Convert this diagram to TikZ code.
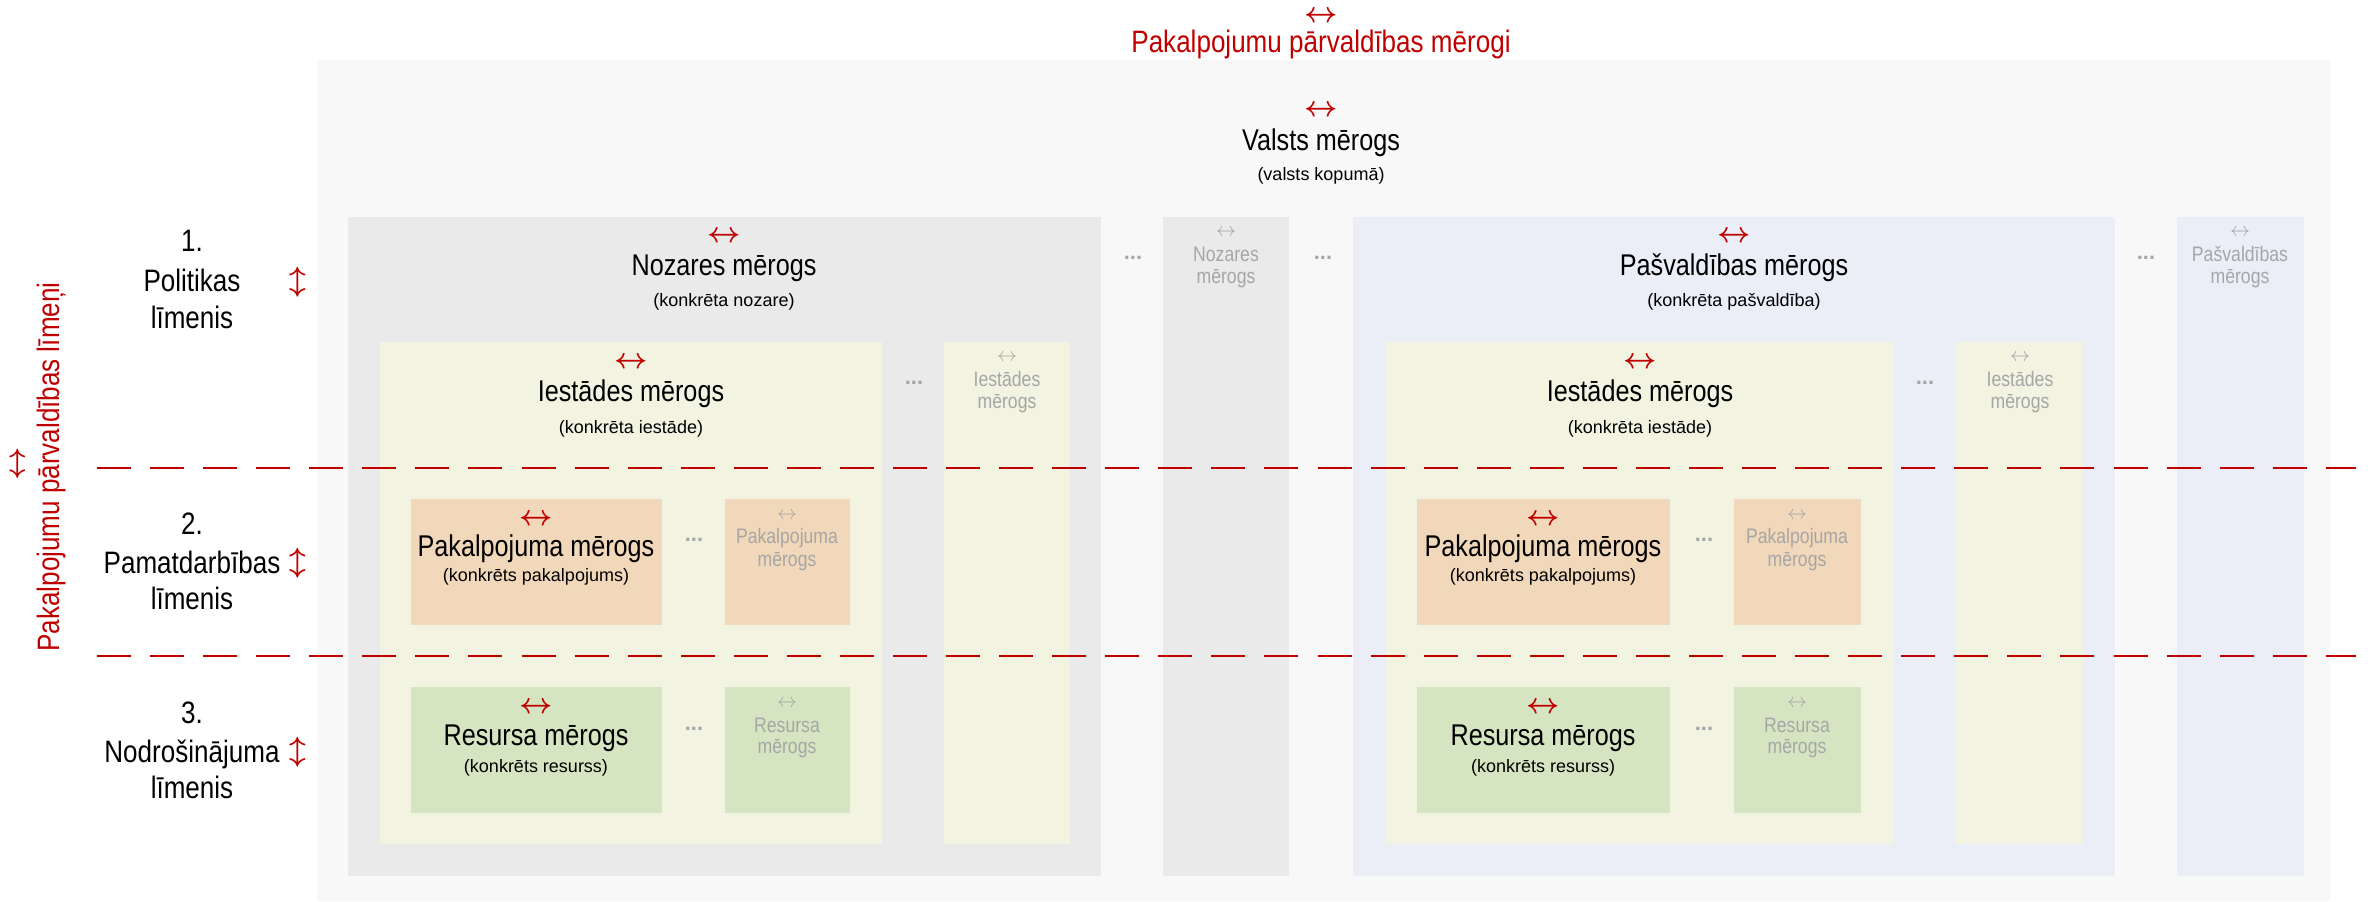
\RequirePackage{fix-cm}
\documentclass[tikz,border=0pt]{standalone}
\usepackage{fontspec}
\setmainfont{Liberation Sans}
\newfontfamily\narrowfont[FakeStretch=0.84]{Liberation Sans}
\definecolor{redc}{HTML}{C00000}
\definecolor{greytxt}{HTML}{A6A6A6}
\definecolor{outerbg}{HTML}{F8F8F8}
\definecolor{nozbg}{HTML}{EAEAEA}
\definecolor{pasbg}{HTML}{EBEEF6}
\definecolor{iestbg}{HTML}{F2F3E1}
\definecolor{pakbg}{HTML}{F2D8BA}
\definecolor{resbg}{HTML}{D5E5C1}
\tikzset{
  mainlbl/.style={anchor=base, inner sep=0, font=\narrowfont\fontsize{22.5}{27}\selectfont},
  sublbl/.style={anchor=base, inner sep=0, font=\fontsize{13.5}{16}\selectfont},
  greylbl/.style={anchor=base, inner sep=0, text=greytxt, font=\narrowfont\fontsize{15.75}{18}\selectfont},
  redarr/.style={inner sep=0, text=redc, font=\boldmath\fontsize{21.75}{26}\selectfont},
  greyarr/.style={inner sep=0, text=greytxt, font=\fontsize{15}{18}\selectfont},
  dotslbl/.style={anchor=base, inner sep=0, text=greytxt, font=\bfseries\fontsize{16.5}{18}\selectfont},
  levellbl/.style={anchor=base, inner sep=0, font=\narrowfont\fontsize{23.25}{28}\selectfont},
  redtitle/.style={anchor=base, inner sep=0, text=redc, font=\narrowfont\fontsize{23.25}{28}\selectfont},
  levelline/.style={draw=redc, line width=2pt, dash pattern=on 25.5pt off 14.3pt},
}
\begin{document}
\begin{tikzpicture}[x=0.75pt, y=-0.75pt]
\useasboundingbox (0,0) rectangle (2372,901);
% areas
\fill[outerbg] (317,60) rectangle (2330,901);
\fill[nozbg] (348,217) rectangle (1101,876);
\fill[nozbg] (1163,217) rectangle (1289,876);
\fill[pasbg] (1353,217) rectangle (2115,876);
\fill[pasbg] (2177,217) rectangle (2304,876);
\fill[iestbg] (380,342) rectangle (882,844);
\fill[iestbg] (944,342) rectangle (1070,844);
\fill[iestbg] (1386,342) rectangle (1893,844);
\fill[iestbg] (1956,342) rectangle (2083,844);
\fill[pakbg] (411,499) rectangle (662,625);
\fill[pakbg] (725,499) rectangle (850,625);
\fill[pakbg] (1417,499) rectangle (1670,625);
\fill[pakbg] (1734,499) rectangle (1861,625);
\fill[resbg] (411,687) rectangle (662,813);
\fill[resbg] (725,687) rectangle (850,813);
\fill[resbg] (1417,687) rectangle (1670,813);
\fill[resbg] (1734,687) rectangle (1861,813);
% level separators
\coordinate (sepAa) at (97,468);
\coordinate (sepAb) at (2356,468);
\coordinate (sepBa) at (97,656);
\coordinate (sepBb) at (2356,656);
\draw[levelline] (sepAa) -- (sepAb);
\draw[levelline] (sepBa) -- (sepBb);
% title
\node[redarr] (tarr) at (1321,17) {$\leftrightarrow$};
\node[redtitle] (title) at (1321,52) {Pakalpojumu pārvaldības mērogi};
% left rotated title
\node[redarr, rotate=90] (larr) at (19,464) {$\leftrightarrow$};
\node[redtitle, rotate=90] (ltitle) at (59,467) {Pakalpojumu pārvaldības līmeņi};
% level labels
\node[levellbl] (l1a) at (192,251) {1.};
\node[levellbl] (l1b) at (192,291) {Politikas};
\node[levellbl] (l1c) at (192,328) {līmenis};
\node[redarr] (l1arr) at (298,282) {$\updownarrow$};
\node[levellbl] (l2a) at (192,534) {2.};
\node[levellbl] (l2b) at (192,573) {Pamatdarbības};
\node[levellbl] (l2c) at (192,609) {līmenis};
\node[redarr] (l2arr) at (298,563) {$\updownarrow$};
\node[levellbl] (l3a) at (192,723) {3.};
\node[levellbl] (l3b) at (192,762) {Nodrošinājuma};
\node[levellbl] (l3c) at (192,798) {līmenis};
\node[redarr] (l3arr) at (298,752) {$\updownarrow$};
% Valsts
\node[redarr] (varr) at (1321,111) {$\leftrightarrow$};
\node[mainlbl] (vmain) at (1321,150) {Valsts mērogs};
\node[sublbl] (vsub) at (1321,180) {(valsts kopumā)};
% Nozares
\node[redarr] (narr) at (724,237) {$\leftrightarrow$};
\node[mainlbl] (nmain) at (724,275) {Nozares mērogs};
\node[sublbl] (nsub) at (724,306) {(konkrēta nozare)};
\node[greyarr] (n2arr) at (1226,233) {$\leftrightarrow$};
\node[greylbl] (n2a) at (1226,261) {Nozares};
\node[greylbl] (n2b) at (1226,283) {mērogs};
\node[dotslbl] (d1) at (1133,259) {...};
\node[dotslbl] (d2) at (1323,259) {...};
% Pašvaldības
\node[redarr] (parr) at (1734,237) {$\leftrightarrow$};
\node[mainlbl] (pmain) at (1734,275) {Pašvaldības mērogs};
\node[sublbl] (psub) at (1734,306) {(konkrēta pašvaldība)};
\node[greyarr] (p2arr) at (2240,233) {$\leftrightarrow$};
\node[greylbl] (p2a) at (2240,261) {Pašvaldības};
\node[greylbl] (p2b) at (2240,283) {mērogs};
\node[dotslbl] (d3) at (2146,259) {...};
% Iestādes left
\node[redarr] (iLarr) at (631,363) {$\leftrightarrow$};
\node[mainlbl] (iLmain) at (631,401) {Iestādes mērogs};
\node[sublbl] (iLsub) at (631,433) {(konkrēta iestāde)};
\node[greyarr] (iL2arr) at (1007,358) {$\leftrightarrow$};
\node[greylbl] (iL2a) at (1007,386) {Iestādes};
\node[greylbl] (iL2b) at (1007,408) {mērogs};
\node[dotslbl] (d4) at (914,384) {...};
% Iestādes right
\node[redarr] (iRarr) at (1640,363) {$\leftrightarrow$};
\node[mainlbl] (iRmain) at (1640,401) {Iestādes mērogs};
\node[sublbl] (iRsub) at (1640,433) {(konkrēta iestāde)};
\node[greyarr] (iR2arr) at (2020,358) {$\leftrightarrow$};
\node[greylbl] (iR2a) at (2020,386) {Iestādes};
\node[greylbl] (iR2b) at (2020,408) {mērogs};
\node[dotslbl] (d5) at (1925,384) {...};
% Pakalpojuma left
\node[redarr] (kLarr) at (536,520) {$\leftrightarrow$};
\node[mainlbl] (kLmain) at (536,556) {Pakalpojuma mērogs};
\node[sublbl] (kLsub) at (536,581) {(konkrēts pakalpojums)};
\node[greyarr] (kL2arr) at (787,516) {$\leftrightarrow$};
\node[greylbl] (kL2a) at (787,543) {Pakalpojuma};
\node[greylbl] (kL2b) at (787,566) {mērogs};
\node[dotslbl] (d6) at (694,541) {...};
% Pakalpojuma right
\node[redarr] (kRarr) at (1543,520) {$\leftrightarrow$};
\node[mainlbl] (kRmain) at (1543,556) {Pakalpojuma mērogs};
\node[sublbl] (kRsub) at (1543,581) {(konkrēts pakalpojums)};
\node[greyarr] (kR2arr) at (1797,516) {$\leftrightarrow$};
\node[greylbl] (kR2a) at (1797,543) {Pakalpojuma};
\node[greylbl] (kR2b) at (1797,566) {mērogs};
\node[dotslbl] (d7) at (1704,541) {...};
% Resursa left
\node[redarr] (rLarr) at (536,708) {$\leftrightarrow$};
\node[mainlbl] (rLmain) at (536,745) {Resursa mērogs};
\node[sublbl] (rLsub) at (536,772) {(konkrēts resurss)};
\node[greyarr] (rL2arr) at (787,704) {$\leftrightarrow$};
\node[greylbl] (rL2a) at (787,732) {Resursa};
\node[greylbl] (rL2b) at (787,753) {mērogs};
\node[dotslbl] (d8) at (694,730) {...};
% Resursa right
\node[redarr] (rRarr) at (1543,708) {$\leftrightarrow$};
\node[mainlbl] (rRmain) at (1543,745) {Resursa mērogs};
\node[sublbl] (rRsub) at (1543,772) {(konkrēts resurss)};
\node[greyarr] (rR2arr) at (1797,704) {$\leftrightarrow$};
\node[greylbl] (rR2a) at (1797,732) {Resursa};
\node[greylbl] (rR2b) at (1797,753) {mērogs};
\node[dotslbl] (d9) at (1704,730) {...};
\end{tikzpicture}
\end{document}
